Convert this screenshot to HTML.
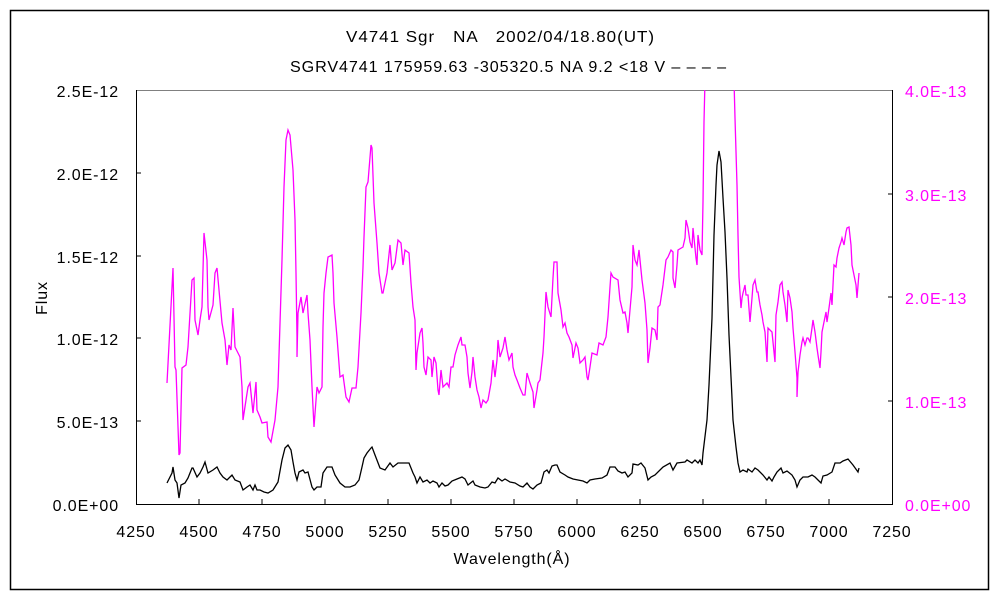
<!DOCTYPE html>
<html><head><meta charset="utf-8"><style>
body{margin:0;background:#fff;width:1000px;height:600px;overflow:hidden}
svg text{font-family:"Liberation Sans","Noto Sans CJK JP",sans-serif;font-size:16px;letter-spacing:0.9px}
</style></head><body>
<svg width="1000" height="600" viewBox="0 0 1000 600" xmlns="http://www.w3.org/2000/svg">
<rect x="10.5" y="10.5" width="978" height="579" fill="#fff" stroke="#000" stroke-width="1.5"/>
<text x="346" y="42" textLength="309" lengthAdjust="spacingAndGlyphs">V4741 Sgr　NA　2002/04/18.80(UT)</text>
<text x="290" y="72" textLength="437" lengthAdjust="spacingAndGlyphs">SGRV4741 175959.63 -305320.5 NA 9.2 &lt;18 V ‒ ‒ ‒ ‒</text>
<line x1="136" y1="90.5" x2="893" y2="90.5" stroke="#808080"/>
<path d="M136.5 90V504.5H892.5V90" fill="none" stroke="#000"/>
<g stroke="#000">
<line x1="136" y1="173" x2="141" y2="173"/><line x1="136" y1="256" x2="141" y2="256"/><line x1="136" y1="338" x2="141" y2="338"/><line x1="136" y1="421" x2="141" y2="421"/>
<line x1="888" y1="194" x2="893" y2="194"/><line x1="888" y1="297" x2="893" y2="297"/><line x1="888" y1="401" x2="893" y2="401"/>
<line x1="199" y1="499" x2="199" y2="504"/><line x1="262" y1="499" x2="262" y2="504"/><line x1="325" y1="499" x2="325" y2="504"/><line x1="388" y1="499" x2="388" y2="504"/><line x1="451" y1="499" x2="451" y2="504"/><line x1="514" y1="499" x2="514" y2="504"/><line x1="577" y1="499" x2="577" y2="504"/><line x1="640" y1="499" x2="640" y2="504"/><line x1="703" y1="499" x2="703" y2="504"/><line x1="766" y1="499" x2="766" y2="504"/><line x1="829" y1="499" x2="829" y2="504"/>
</g>
<g text-anchor="end">
<text x="119" y="97">2.5E-12</text><text x="119" y="180">2.0E-12</text><text x="119" y="263">1.5E-12</text><text x="119" y="345">1.0E-12</text><text x="119" y="428">5.0E-13</text><text x="119" y="511">0.0E+00</text>
</g>
<g fill="#ff00ff">
<text x="905" y="97">4.0E-13</text><text x="905" y="201">3.0E-13</text><text x="905" y="304">2.0E-13</text><text x="905" y="408">1.0E-13</text><text x="905" y="511">0.0E+00</text>
</g>
<g text-anchor="middle">
<text x="136" y="537">4250</text><text x="199" y="537">4500</text><text x="262" y="537">4750</text><text x="325" y="537">5000</text><text x="388" y="537">5250</text><text x="451" y="537">5500</text><text x="514" y="537">5750</text><text x="577" y="537">6000</text><text x="640" y="537">6250</text><text x="703" y="537">6500</text><text x="766" y="537">6750</text><text x="829" y="537">7000</text><text x="892" y="537">7250</text>
<text x="512" y="564">Wavelength(Å)</text>
</g>
<text x="0" y="0" text-anchor="middle" transform="translate(47,298) rotate(-90)">Flux</text>
<defs><clipPath id="c"><rect x="136" y="90" width="757" height="415"/></clipPath></defs>
<polyline clip-path="url(#c)" fill="none" stroke="#ff00ff" stroke-width="1.3" points="167,383 173,268 175,367 176,370 179,455 180,453 182,368 186,365 188,347 192,280 194,278 195,320 198,335 200,320 202,307 204,233 207,260 208,307 209,320 213,305 215,273 217,268 219,290 222,323 225,340 227,365 229,345 231,350 233,308 235,347 240,357 242,387 243,420 246,400 248,387 250,383 253,413 256,382 257,410 260,417 262,423 267,422 268,437 271,442 275,420 278,387 282,260 284,187 286,140 288,130 290,135 293,170 295,220 296,273 297,337 297,357 298,313 301,297 303,313 307,295 308,313 310,340 312,387 314,427 317,387 319,393 322,387 323,327 324,293 326,273 328,257 332,255 333,273 334,303 337,337 340,377 343,375 346,397 349,402 352,388 356,388 358,367 361,313 363,267 364,237 366,187 368,182 371,145 372,148 374,203 377,243 379,273 382,293 383,293 387,273 390,245 392,270 395,263 398,240 401,243 403,265 405,250 409,253 411,283 413,307 415,320 416,370 417,353 420,333 422,328 423,343 424,367 426,375 428,357 431,360 432,377 434,357 436,363 438,390 439,395 441,370 443,387 447,383 449,387 451,367 453,367 455,355 458,345 461,337 462,345 465,345 467,357 468,373 470,388 472,372 473,357 475,377 477,390 479,397 481,408 483,400 486,403 488,400 491,383 493,360 495,377 497,360 498,340 500,357 503,348 505,337 507,350 509,360 512,353 513,367 515,375 517,380 520,388 523,395 525,395 527,373 530,383 533,392 534,408 537,390 538,383 540,380 543,353 544,337 546,292 548,307 551,317 553,278 554,262 557,262 558,293 561,310 563,327 565,323 567,333 569,337 572,345 573,358 576,343 578,348 580,363 583,360 585,357 587,377 588,380 590,367 592,353 597,355 599,343 603,345 606,337 608,317 610,287 611,273 613,277 618,280 620,300 623,313 625,312 627,323 628,333 630,310 632,287 633,245 635,260 637,265 639,250 642,280 645,303 647,330 648,363 650,348 652,328 655,330 657,340 658,307 660,305 663,285 666,260 668,257 671,250 673,252 673,278 675,288 677,265 678,250 683,247 685,238 686,220 688,228 690,242 692,248 693,228 696,258 697,265 698,235 700,250 702,255 703,202 704,122 705,80 734,80 735,118 737,185 738,235 739,277 741,308 742,298 743,293 745,285 746,295 748,295 750,322 752,298 753,285 755,280 757,292 758,292 760,305 762,315 763,322 765,332 767,362 768,328 772,332 773,342 775,362 776,315 778,302 780,285 782,282 783,292 785,305 787,322 788,290 790,298 792,312 793,328 795,352 797,378 797,397 798,372 800,355 802,342 803,338 805,345 807,338 808,338 810,342 812,328 813,320 815,332 817,348 818,355 820,368 821,352 822,332 824,322 826,312 827,322 829,308 831,293 832,305 834,265 836,267 837,258 839,248 841,242 842,238 844,245 846,232 847,228 849,227 851,245 852,265 854,275 856,285 857,298 859,273"/>
<polyline fill="none" stroke="#000" stroke-width="1.3" points="167,483 172,473 173,467 175,480 177,483 179,498 181,485 185,483 188,478 192,468 193,468 197,477 200,473 203,467 205,462 208,473 213,470 217,467 220,473 223,477 227,480 230,477 232,475 235,480 240,482 243,490 247,487 250,485 253,490 255,485 257,490 260,490 264,492 268,493 273,490 278,482 282,460 285,448 288,445 291,450 293,462 295,473 297,480 299,472 303,470 305,473 308,472 312,487 314,490 317,487 321,487 323,473 327,467 332,467 335,475 340,483 345,487 350,487 355,485 359,480 362,467 364,458 367,453 371,448 372,447 375,455 380,468 385,470 390,463 393,467 398,463 402,463 409,463 413,473 415,477 417,483 420,477 423,482 427,480 430,483 433,481 437,483 439,487 442,483 445,486 448,485 452,481 457,479 462,477 465,479 468,485 473,481 475,485 480,487 485,488 488,487 492,482 495,483 498,478 502,481 505,479 510,482 515,483 520,486 523,487 527,483 530,487 533,489 537,485 541,483 544,472 547,470 549,473 552,466 555,465 557,465 560,472 565,475 568,477 573,479 578,480 583,481 587,483 590,480 595,479 602,478 607,475 610,467 615,467 618,471 622,473 625,472 628,477 632,473 633,464 638,465 641,463 645,468 648,480 651,477 655,475 663,467 670,463 673,470 677,463 685,462 687,460 692,463 695,460 698,463 700,460 702,465 703,453 707,420 709,385 712,318 714,235 716,185 717,165 719,151 721,162 723,198 725,232 727,278 729,335 732,398 733,420 736,447 738,463 740,472 743,470 747,472 748,469 752,472 755,468 758,470 763,475 767,480 769,477 772,481 774,477 777,472 781,468 783,473 787,471 792,475 795,480 797,487 800,480 803,477 808,477 812,475 815,477 818,480 821,483 823,476 827,475 832,472 835,463 840,463 843,461 848,459 853,465 858,472 859,468"/>
</svg>
</body></html>
